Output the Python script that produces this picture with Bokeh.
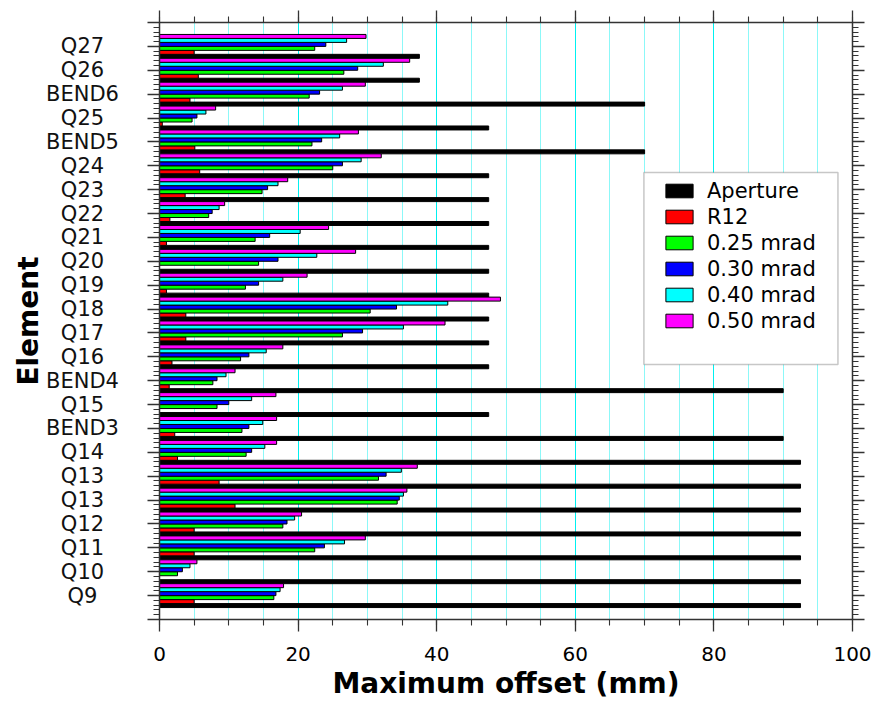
import numpy as np
from bokeh.plotting import figure
from bokeh.layouts import row
from bokeh.models import (Range1d, LinearAxis, SingleIntervalTicker, Legend, LegendItem,
                          BoxAnnotation, ColumnDataSource, CustomLabelingPolicy)
from bokeh.core.properties import value
from bokeh.embed import file_html
from bokeh.resources import INLINE

# ---- data (top to bottom) ----
elements = ["Q27", "Q26", "BEND6", "Q25", "BEND5", "Q24", "Q23", "Q22", "Q21", "Q20",
            "Q19", "Q18", "Q17", "Q16", "BEND4", "Q15", "BEND3", "Q14", "Q13", "Q13",
            "Q12", "Q11", "Q10", "Q9"]
aperture = [37.5, 37.5, 70, 47.5, 70, 47.5, 47.5, 47.5, 47.5, 47.5,
            47.5, 47.5, 47.5, 47.5, 90, 47.5, 90, 92.5, 92.5, 92.5,
            92.5, 92.5, 92.5, 92.5]
r12 = [5.0, 5.6, 4.4, 0.4, 5.1, 5.8, 3.7, 1.5, 1.0, 0.0,
       1.0, 3.8, 3.8, 1.8, 1.4, 0.0, 2.2, 2.6, 8.6, 10.9,
       5.0, 5.0, 0.0, 5.0]
mrad025 = [22.4, 26.6, 21.6, 4.7, 22.0, 25.0, 14.8, 7.1, 13.8, 14.3,
           12.4, 30.4, 26.4, 11.7, 7.7, 8.3, 11.9, 12.5, 31.6, 34.3,
           17.8, 22.4, 2.6, 16.5]
mrad030 = [24.0, 28.6, 23.1, 5.4, 23.4, 26.4, 15.6, 7.6, 15.9, 17.1,
           14.3, 34.2, 29.3, 12.9, 8.3, 10.0, 12.9, 13.3, 32.7, 34.6,
           18.4, 23.8, 3.3, 16.8]
mrad040 = [27.0, 32.3, 26.4, 6.7, 26.0, 29.1, 17.1, 8.6, 20.3, 22.7,
           17.8, 41.6, 35.2, 15.4, 9.6, 13.3, 14.9, 15.2, 34.9, 35.2,
           19.5, 26.7, 4.4, 17.4]
mrad050 = [29.8, 36.1, 29.7, 8.1, 28.7, 32.0, 18.5, 9.4, 24.4, 28.3,
           21.3, 49.2, 41.2, 17.8, 10.9, 16.8, 16.9, 16.9, 37.2, 35.7,
           20.5, 29.7, 5.4, 17.9]

series_names = ["Aperture", "R12", "0.25 mrad", "0.30 mrad", "0.40 mrad", "0.50 mrad"]
series_values = [aperture, r12, mrad025, mrad030, mrad040, mrad050]
series_colors = ["#000000", "#ff0000", "#00ff00", "#0000ff", "#00ffff", "#ff00ff"]

n = len(elements)
positions = [float(n - i) for i in range(n)]  # Q27 at top
nser = len(series_names)
bar_h = 1.0 / nser

TOP, BOTTOM = 22, 85
LABEL_W = 143
y_range = Range1d(0, n + 1)

# ---------- left strip with the category labels ----------
lab = figure(width=LABEL_W, height=704, x_range=Range1d(0, LABEL_W), y_range=y_range,
             output_backend="svg", toolbar_location=None,
             min_border_left=0, min_border_right=0, min_border_top=TOP, min_border_bottom=BOTTOM)
lab.axis.visible = False
lab.grid.visible = False
lab.outline_line_color = None
lab_src = ColumnDataSource(dict(x=[82.0] * n, y=positions, text=elements))
lab.text(x="x", y="y", text="text", source=lab_src, text_align="center", text_baseline="middle",
         text_font=value("DejaVu Sans"), text_font_size="21px", text_color="#111111")
lab.text(x=[28.0], y=[(n + 1) / 2], text=["Element"], angle=np.pi / 2,
         text_align="center", text_baseline="middle",
         text_font=value("DejaVu Sans"), text_font_size="28px", text_font_style="bold",
         text_color="black")

# ---------- main chart ----------
p = figure(width=877 - LABEL_W, height=704, x_range=Range1d(0, 100), y_range=y_range,
           output_backend="svg", toolbar_location=None,
           min_border_left=159 - LABEL_W, min_border_right=25, min_border_top=TOP,
           min_border_bottom=BOTTOM)
p.outline_line_color = None
p.background_fill_color = "white"
p.border_fill_color = "white"

xticker = SingleIntervalTicker(interval=20, num_minor_ticks=4)
yticker = SingleIntervalTicker(interval=1, num_minor_ticks=5)

axis_col = "#333333"
hide_all = "for (const i of indices) { indices.unset(i) }\nreturn indices"

def style_axis(ax):
    ax.axis_line_color = axis_col
    ax.axis_line_width = 1.5
    ax.major_tick_line_color = axis_col
    ax.minor_tick_line_color = axis_col
    ax.major_tick_line_width = 1.3
    ax.minor_tick_line_width = 1.1
    ax.major_tick_out = 12
    ax.major_tick_in = 0
    ax.minor_tick_out = 6
    ax.minor_tick_in = 0

def hide_labels(ax):
    ax.major_label_policy = CustomLabelingPolicy(code=hide_all)
    ax.major_label_text_font_size = "1px"
    ax.major_label_standoff = 0

# bottom axis
xa = p.xaxis[0]
xa.ticker = xticker
style_axis(xa)
xa.major_label_text_font = "DejaVu Sans"
xa.major_label_text_font_size = "20px"
xa.major_label_text_color = "black"
xa.major_label_standoff = 15
xa.axis_label = "Maximum offset (mm)"
xa.axis_label_text_font = "DejaVu Sans"
xa.axis_label_text_font_size = "28px"
xa.axis_label_text_font_style = "bold"
xa.axis_label_text_color = "black"
xa.axis_label_standoff = 3

# left axis (ticks only, labels drawn in the strip)
ya = p.yaxis[0]
ya.ticker = yticker
style_axis(ya)
hide_labels(ya)

top_ax = LinearAxis(ticker=xticker)
style_axis(top_ax)
hide_labels(top_ax)
p.add_layout(top_ax, "above")
right_ax = LinearAxis(ticker=yticker)
style_axis(right_ax)
hide_labels(right_ax)
p.add_layout(right_ax, "right")

# grid
p.ygrid.visible = False
p.xgrid.ticker = xticker
p.xgrid.grid_line_color = "#00f0f0"
p.xgrid.grid_line_width = 1
p.xgrid.minor_grid_line_color = "#8cf8f8"
p.xgrid.minor_grid_line_width = 1

# bars
renderers = []
for k, (name, vals, col) in enumerate(zip(series_names, series_values, series_colors)):
    ys = [pos + (k - (nser - 1) / 2) * bar_h for pos in positions]
    src = ColumnDataSource(dict(y=ys, right=vals))
    r = p.hbar(y="y", left=0, right="right", height=bar_h, source=src,
               fill_color=col, line_color="black", line_width=1)
    renderers.append(r)

# legend box + legend
box = BoxAnnotation(left=69.9, right=97.9, bottom=10.68, top=18.72,
                    fill_color="white", fill_alpha=1.0, line_color="#444444", line_width=1.5)
p.add_layout(box)

legend = Legend(items=[LegendItem(label=nm, renderers=[r]) for nm, r in zip(series_names, renderers)],
                location=(497, 280), orientation="vertical",
                padding=6, spacing=1, margin=0,
                glyph_width=34, glyph_height=17, label_height=25, label_standoff=11,
                label_text_font="DejaVu Sans", label_text_font_size="21px", label_text_color="black",
                background_fill_alpha=0, border_line_alpha=0)
p.add_layout(legend)

layout = row(lab, p, spacing=0)
open("out.html", "w").write(file_html(layout, INLINE))
